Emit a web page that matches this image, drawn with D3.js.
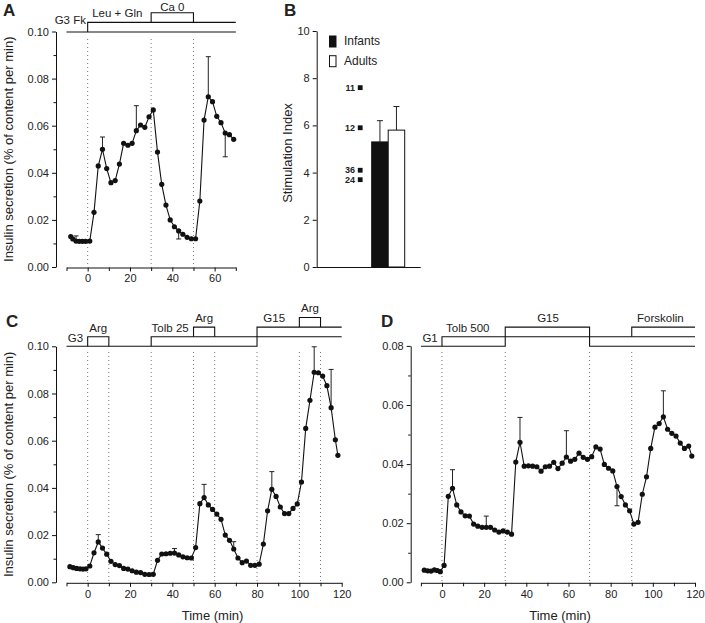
<!DOCTYPE html>
<html><head><meta charset="utf-8">
<script src="https://cdn.jsdelivr.net/npm/d3@7"></script>
<style>
body{margin:0;background:#fff}
svg{display:block}
text{font-family:"Liberation Sans",Arial,Helvetica,sans-serif;fill:#222}
</style>
</head><body>
<svg id="chart" width="705" height="623"></svg>
<script>
// ---------------- DATA ----------------
// Panel A
const timeA = [-8,-7,-5.5,-4,-2.5,-1,1,3,5,7,9,11,13,15,17,19,21,23,25,27,29,31,33,35,37,39,41,43,45,47,49,51,53,55,57,59,61,63,65,67,69];
const valA  = [0.0129,0.0119,0.0110,0.0109,0.0109,0.0109,0.0110,0.0232,0.0429,0.0500,0.0418,0.0358,0.0367,0.0437,0.0525,0.0517,0.0525,0.0579,0.0603,0.0593,0.0638,0.0667,0.0488,0.0351,0.0263,0.0200,0.0171,0.0153,0.0139,0.0126,0.0120,0.0120,0.0280,0.0624,0.0723,0.0702,0.0640,0.0613,0.0569,0.0562,0.0542];
const errTimeA = [-5.5,7,23,43,57,65];
const errEndA  = [0.0132,0.0552,0.0685,0.0119,0.0893,0.0468];

// Panel B
const groupsB = ["Infants","Adults"];
const meanB = [5.3,5.8];
const errEndB = [6.2,6.8];
const indivLabelB = ["11","12","36","24"];
const indivValB = [7.6,5.9,4.1,3.7];

// Panel C
const timeC = [-8.4,-6.8,-5.2,-3.6,-2.2,-0.8,1,3,5,7,9,11,13,15,17,19,21,23,25,27,29,31,33,35,37,39,41,43,45,47,49,51,53,55,57,59,61,63,65,67,69,71,73,75,77,79,81,83,85,87,89,91,93,95,97,99,101,103,105,107,109,111,113,115,117,118.2];
const valC  = [0.0066,0.0062,0.0059,0.0057,0.0056,0.0057,0.0069,0.0125,0.0171,0.0145,0.0119,0.0089,0.0075,0.0071,0.0059,0.0056,0.0049,0.0043,0.0041,0.0034,0.0033,0.0034,0.0093,0.0120,0.0121,0.0123,0.0124,0.0116,0.0108,0.0104,0.0103,0.0147,0.0333,0.0359,0.0328,0.0309,0.0289,0.0267,0.0200,0.0178,0.0141,0.0103,0.0083,0.0090,0.0072,0.0072,0.0077,0.0162,0.0303,0.0394,0.0364,0.0319,0.0291,0.0291,0.0313,0.0332,0.0425,0.0652,0.0771,0.0890,0.0888,0.0874,0.0833,0.0740,0.0604,0.0538];
const errTimeC = [5,41,55,69,87,107,115];
const errEndC  = [0.0202,0.0143,0.0415,0.0172,0.0469,0.0998,0.0902];

// Panel D
const timeD = [-8.4,-6.8,-5.2,-3.6,-2.2,-0.8,1,3,5,7,9,11,13,15,17,19,21,23,25,27,29,31,33,35,37,39,41,43,45,47,49,51,53,55,57,59,61,63,65,67,69,71,73,75,77,79,81,83,85,87,89,91,93,95,97,99,101,103,105,107,109,111,113,115,117,118.5];
const valD  = [0.0041,0.0039,0.0038,0.0042,0.0040,0.0036,0.0057,0.0291,0.0318,0.0262,0.0238,0.0225,0.0224,0.0197,0.0190,0.0186,0.0186,0.0186,0.0177,0.0170,0.0174,0.0170,0.0163,0.0407,0.0474,0.0393,0.0394,0.0393,0.0391,0.0376,0.0391,0.0393,0.0406,0.0385,0.0403,0.0424,0.0410,0.0416,0.0437,0.0423,0.0416,0.0425,0.0458,0.0451,0.0399,0.0386,0.0377,0.0324,0.0290,0.0262,0.0242,0.0197,0.0203,0.0298,0.0357,0.0453,0.0525,0.0537,0.0560,0.0518,0.0504,0.0495,0.0471,0.0453,0.0461,0.0427];
const errTimeD = [5,21,37,59,83,105];
const errEndD  = [0.0381,0.0224,0.0558,0.0513,0.0259,0.0648];

// Protocols: step paths as [time, level]
const protoA = [
  [[-10,0],[70,0]],
  [[0,0],[0,1],[70,1]],
  [[30,1],[30,2],[50,2],[50,1]]
];
const protoLabelA = ["G3 Fk","Leu + Gln","Ca 0"];
const protoC = [
  [[-10,0],[80,0],[80,2],[120,2]],
  [[30,0],[30,1],[120,1]],
  [[0,0],[0,1],[10,1],[10,0]],
  [[50,1],[50,2],[60,2],[60,1]],
  [[100,2],[100,3],[110,3],[110,2]]
];
const protoLabelC = ["G3","Arg","Tolb 25","Arg","G15","Arg"];
const protoD = [
  [[-10,0],[30,0],[30,2],[70,2],[70,0],[120,0]],
  [[0,0],[0,1],[120,1]],
  [[90,1],[90,2],[120,2]]
];
const protoLabelD = ["G1","Tolb 500","G15","Forskolin"];

const markA = [0,30,50];
const markC = [0,10,30,50,60,80,100,110];
const markD = [0,30,70,90];

const yTicks10 = [0,0.02,0.04,0.06,0.08,0.10];
const yTicks08 = [0,0.02,0.04,0.06,0.08];
const xTicksA = [0,20,40,60];
const xTicksCD = [0,20,40,60,80,100,120];

// ---------------- DRAWING ----------------
const svg = d3.select("#chart");
const fmt = d3.format(".2f");

function styleAxis(g){
  g.selectAll("path.domain").attr("stroke","#111").attr("stroke-width",1);
  g.selectAll(".tick line").attr("stroke","#111").attr("stroke-width",1);
  g.selectAll(".tick text").attr("font-size","11px").attr("fill","#222")
   .attr("font-family",'"Liberation Sans",Arial,sans-serif');
}

function drawTimePanel(o){
  const g = svg.append("g");
  const x = d3.scaleLinear().domain([-10, o.xMax]).range(o.xRange);
  const y = d3.scaleLinear().domain([0, o.yMax]).range(o.yRange);
  // y axis major
  const ya = g.append("g").attr("transform",`translate(${o.yAxisX},0)`)
    .call(d3.axisLeft(y).tickValues(o.yTicks).tickFormat(fmt).tickSize(4).tickSizeOuter(0).tickPadding(3));
  styleAxis(ya);
  const minorY = d3.range(0.01, o.yMax, 0.02);
  const ym = g.append("g").attr("transform",`translate(${o.yAxisX},0)`)
    .call(d3.axisLeft(y).tickValues(minorY).tickFormat("").tickSize(2.5).tickSizeOuter(0));
  styleAxis(ym); ym.select(".domain").remove();
  // x axis
  const xa = g.append("g").attr("transform",`translate(0,${o.yRange[0]+0.5})`)
    .call(d3.axisBottom(x).tickValues(o.xTicks).tickSize(4).tickSizeOuter(0).tickPadding(3));
  styleAxis(xa);
  const minorX = d3.range(-10, o.xMax + 1, 20);
  const xm = g.append("g").attr("transform",`translate(0,${o.yRange[0]+0.5})`)
    .call(d3.axisBottom(x).tickValues(minorX).tickFormat("").tickSize(3.5).tickSizeOuter(0));
  styleAxis(xm); xm.select(".domain").remove();

  // dotted markers
  g.selectAll("line.mark").data(o.marks).join("line")
    .attr("x1",d=>x(d)).attr("x2",d=>x(d))
    .attr("y1",o.markTop).attr("y2",o.yRange[0])
    .attr("stroke","#777").attr("stroke-width",1).attr("stroke-dasharray","1,3");

  // protocol
  const lvl = l => o.protoBase - l*o.protoStep;
  const pl = d3.line().x(d=>x(d[0])).y(d=>lvl(d[1]));
  g.selectAll("path.proto").data(o.proto).join("path")
    .attr("d",pl).attr("fill","none").attr("stroke","#111").attr("stroke-width",1.1);
  o.labels.forEach(L=>{
    g.append("text").attr("x",x(L.t)).attr("y",lvl(L.l)-L.dy)
      .attr("text-anchor",L.a).attr("font-size","11.5px").text(L.text);
  });

  // error bars
  const pts = o.times.map((t,i)=>({t, v:o.vals[i]}));
  const errs = o.errT.map((t,i)=>({t, v:o.vals[o.times.indexOf(t)], e:o.errE[i]}));
  g.selectAll("line.err").data(errs).join("line")
    .attr("x1",d=>x(d.t)).attr("x2",d=>x(d.t)).attr("y1",d=>y(d.v)).attr("y2",d=>y(d.e))
    .attr("stroke","#222").attr("stroke-width",1);
  g.selectAll("line.cap").data(errs).join("line")
    .attr("x1",d=>x(d.t)-2.5).attr("x2",d=>x(d.t)+2.5).attr("y1",d=>y(d.e)).attr("y2",d=>y(d.e))
    .attr("stroke","#222").attr("stroke-width",1);

  // line + dots
  g.append("path").datum(pts)
    .attr("d", d3.line().x(d=>x(d.t)).y(d=>y(d.v)))
    .attr("fill","none").attr("stroke","#111").attr("stroke-width",1.1);
  g.selectAll("circle.pt").data(pts).join("circle")
    .attr("cx",d=>x(d.t)).attr("cy",d=>y(d.v)).attr("r",2.6).attr("fill","#111");

  // titles
  if (o.yTitle){
    g.append("text").attr("transform",`translate(${o.yTitleX},${(o.yRange[0]+o.yRange[1])/2}) rotate(-90)`)
      .attr("text-anchor","middle").attr("font-size","13px").text(o.yTitle);
  }
  if (o.xTitle){
    g.append("text").attr("x",x(o.xTitleAt)).attr("y",620)
      .attr("text-anchor","middle").attr("font-size","13px").text(o.xTitle);
  }
  g.append("text").attr("x",o.letterX).attr("y",o.letterY)
    .attr("font-size","17px").attr("font-weight","bold").attr("fill","#111").text(o.letter);
}

// Panel A
drawTimePanel({
  xMax:70, xRange:[66.5,235.8], yMax:0.10, yRange:[267,31.5], yAxisX:56,
  yTicks:yTicks10, xTicks:xTicksA,
  marks:markA, markTop:39,
  proto:protoA, protoBase:32, protoStep:9.6,
  labels:[
    {text:protoLabelA[0], t:-0.8, l:1, dy:-2, a:"end"},
    {text:protoLabelA[1], t:14, l:1, dy:5, a:"middle"},
    {text:protoLabelA[2], t:40, l:2, dy:2.3, a:"middle"}
  ],
  times:timeA, vals:valA, errT:errTimeA, errE:errEndA,
  yTitle:"Insulin secretion (% of content per min)", yTitleX:13,
  letter:"A", letterX:3, letterY:16
});

// Panel C
drawTimePanel({
  xMax:120, xRange:[66.5,341.7], yMax:0.10, yRange:[582.3,346.3], yAxisX:56,
  yTicks:yTicks10, xTicks:xTicksCD,
  marks:markC, markTop:352,
  proto:protoC, protoBase:346.3, protoStep:9.6,
  labels:[
    {text:protoLabelC[0], t:-9.4, l:0, dy:4.3, a:"start"},
    {text:protoLabelC[1], t:5, l:1, dy:5, a:"middle"},
    {text:protoLabelC[2], t:30.2, l:1, dy:4.7, a:"start"},
    {text:protoLabelC[3], t:55, l:2, dy:5, a:"middle"},
    {text:protoLabelC[4], t:83, l:2, dy:5, a:"start"},
    {text:protoLabelC[5], t:105, l:3, dy:5.7, a:"middle"}
  ],
  times:timeC, vals:valC, errT:errTimeC, errE:errEndC,
  yTitle:"Insulin secretion (% of content per min)", yTitleX:13,
  xTitle:"Time (min)", xTitleAt:59,
  letter:"C", letterX:6, letterY:327
});

// Panel D
drawTimePanel({
  xMax:120, xRange:[420.9,695], yMax:0.08, yRange:[582.3,345.9], yAxisX:410.7,
  yTicks:yTicks08, xTicks:xTicksCD,
  marks:markD, markTop:352,
  proto:protoD, protoBase:346.3, protoStep:9.6,
  labels:[
    {text:protoLabelD[0], t:-9.3, l:0, dy:4.3, a:"start"},
    {text:protoLabelD[1], t:1.9, l:1, dy:5, a:"start"},
    {text:protoLabelD[2], t:50.3, l:2, dy:5, a:"middle"},
    {text:protoLabelD[3], t:92.5, l:2, dy:5, a:"start"}
  ],
  times:timeD, vals:valD, errT:errTimeD, errE:errEndD,
  xTitle:"Time (min)", xTitleAt:56,
  letter:"D", letterX:381, letterY:327
});

// Panel B
(function(){
  const g = svg.append("g");
  const y = d3.scaleLinear().domain([0,10]).range([267,31]);
  const x = d3.scaleBand().domain(groupsB).range([371.7,404.7]).padding(0);
  const ya = g.append("g").attr("transform","translate(316.7,0)")
    .call(d3.axisLeft(y).tickValues([0,2,4,6,8,10]).tickSize(4).tickSizeOuter(0).tickPadding(3));
  styleAxis(ya);
  g.append("line").attr("x1",316.7).attr("x2",420.7).attr("y1",267.5).attr("y2",267.5)
    .attr("stroke","#111").attr("stroke-width",1);
  // error bars
  g.selectAll("line.err").data(groupsB).join("line")
    .attr("x1",d=>x(d)+x.bandwidth()/2).attr("x2",d=>x(d)+x.bandwidth()/2)
    .attr("y1",(d,i)=>y(meanB[i])).attr("y2",(d,i)=>y(errEndB[i]))
    .attr("stroke","#222").attr("stroke-width",1);
  g.selectAll("line.cap").data(groupsB).join("line")
    .attr("x1",d=>x(d)+x.bandwidth()/2-3).attr("x2",d=>x(d)+x.bandwidth()/2+3)
    .attr("y1",(d,i)=>y(errEndB[i])).attr("y2",(d,i)=>y(errEndB[i]))
    .attr("stroke","#222").attr("stroke-width",1);
  g.selectAll("rect.bar").data(groupsB).join("rect")
    .attr("x",d=>x(d)).attr("width",x.bandwidth())
    .attr("y",(d,i)=>y(meanB[i])).attr("height",(d,i)=>y(0)-y(meanB[i]))
    .attr("fill",(d,i)=>i===0?"#111":"#fff").attr("stroke","#111").attr("stroke-width",1);
  // individual infants
  g.selectAll("rect.ind").data(indivValB).join("rect")
    .attr("x",357.8).attr("y",d=>y(d)-2.4).attr("width",4.8).attr("height",4.8).attr("fill","#111");
  g.selectAll("text.ind").data(indivLabelB).join("text")
    .attr("x",355).attr("y",(d,i)=>y(indivValB[i])+3).attr("text-anchor","end")
    .attr("font-size","9px").attr("font-weight","bold").text(d=>d);
  // legend
  groupsB.forEach((gname,i)=>{
    g.append("rect").attr("x",329.5).attr("y",36+i*19.7).attr("width",6.5).attr("height",11)
      .attr("fill",i===0?"#111":"#fff").attr("stroke","#111").attr("stroke-width",1);
    g.append("text").attr("x",344).attr("y",45+i*19.7).attr("font-size","12px").text(gname);
  });
  g.append("text").attr("transform",`translate(292,153) rotate(-90)`)
    .attr("text-anchor","middle").attr("font-size","13px").text("Stimulation Index");
  g.append("text").attr("x",284).attr("y",16).attr("font-size","17px").attr("font-weight","bold")
    .attr("fill","#111").text("B");
})();
</script>
</body></html>
